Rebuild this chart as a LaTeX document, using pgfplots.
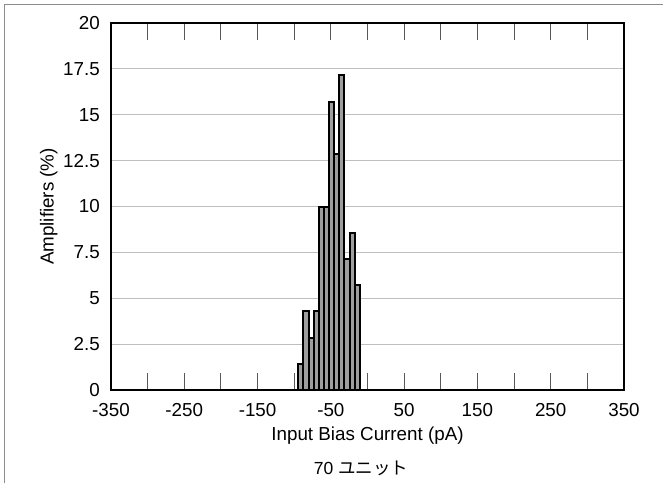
\documentclass[border=0pt]{standalone}
\usepackage{pgfplots}
\pgfplotsset{compat=1.18}
\usepackage{fontspec}
\setmainfont{Liberation Sans}
\newfontfamily\cjk{Noto Sans CJK JP}

\begin{document}
\fontsize{18.8}{22}\selectfont
\begin{tikzpicture}
\begin{axis}[
  at={(0pt,0pt)}, anchor=south west,
  scale only axis, width=513pt, height=367pt,
  xmin=-350, xmax=350, ymin=0, ymax=20,
  axis line style={line width=2.2pt},
  xtick={-350,-250,-150,-50,50,150,250,350},
  xticklabels={-350,-250,-150,-50,50,150,250,350},
  minor xtick={-300,-200,-100,0,100,200,300},
  ytick={0,2.5,5,7.5,10,12.5,15,17.5,20},
  yticklabels={0,2.5,5,7.5,10,12.5,15,17.5,20},
  tick align=inside, xtick pos=both,
  major tick length=17pt, minor tick length=17pt,
  x tick style={black!65, line width=0.9pt},
  y tick style={draw=none},
  ymajorgrids, y grid style={black!25, line width=0.9pt},
  xticklabel style={inner sep=0pt, anchor=north, yshift=-13pt},
  yticklabel style={inner sep=0pt, anchor=east, xshift=-11pt},
  xlabel={Input Bias Current (pA)},
  ylabel={Amplifiers (\%)},
  xlabel style={at={(axis description cs:0.5,-0.1253)}, anchor=center},
  ylabel style={at={(axis description cs:-0.1215,0.5)}, anchor=center},
]
\addplot[ybar, bar width=7, bar shift=0pt, fill=black!38, draw=black, line width=2pt]
coordinates {
  (-91,1.43)
  (-84,4.29)
  (-77,2.86)
  (-70,4.29)
  (-63,10)
  (-56,10)
  (-49,15.71)
  (-42,12.86)
  (-35,17.14)
  (-28,7.14)
  (-21,8.57)
  (-14,5.71)
};
\end{axis}
\pgfresetboundingbox
\useasboundingbox (-111pt,-93pt) rectangle (552pt,390pt);
\draw[black!45, line width=1.2pt] (-106.5pt,-93pt) -- (-106.5pt,385.5pt) -- (552pt,385.5pt);
\node at (250pt,-78pt) {\fontsize{17.5}{20}\selectfont 70 {\cjk ユニット}};
\end{tikzpicture}
\end{document}
